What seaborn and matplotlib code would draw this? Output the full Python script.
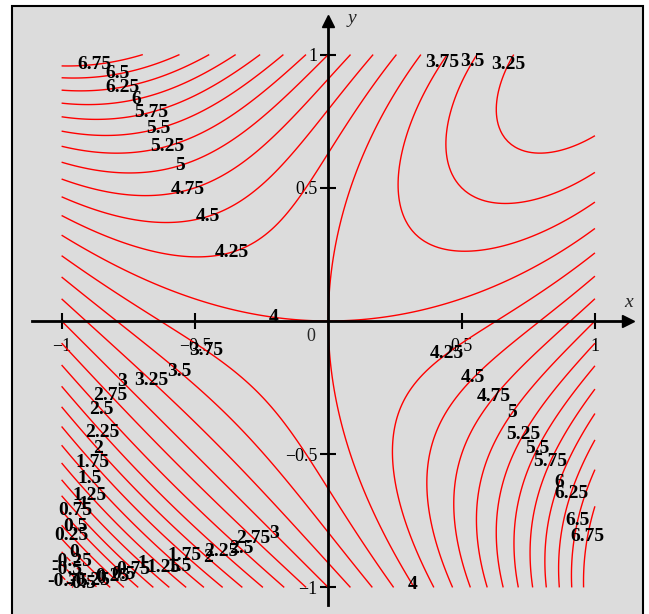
import numpy as np
import matplotlib
matplotlib.use("Agg")
import matplotlib.pyplot as plt
import seaborn as sns
from matplotlib.patches import Rectangle

sns.set_theme(style="white")
plt.rcParams['font.family'] = ['Liberation Serif', 'DejaVu Serif']

# ── surface: z = x^3 + y^3 - 3xy + 4 on the square [-1, 1] x [-1, 1]
x_vals = np.linspace(-1, 1, 161)
y_vals = np.linspace(-1, 1, 161)
X, Y = np.meshgrid(x_vals, y_vals)
Z = X**3 + Y**3 - 3 * X * Y + 4

levels = [-0.75, -0.5, -0.25, 0, 0.25, 0.5, 0.75, 1, 1.25, 1.5, 1.75, 2,
          2.25, 2.5, 2.75, 3, 3.25, 3.5, 3.75, 4, 4.25, 4.5, 4.75, 5,
          5.25, 5.5, 5.75, 6, 6.25, 6.5, 6.75]

# where the contour labels sit
label_spots = {
    -0.75: [(-0.985, -0.985)],
    -0.5:  [(-0.998, -0.953), (-0.893, -0.946)],
    -0.25: [(-0.968, -0.908), (-0.863, -0.942)],
    0:     [(-0.949, -0.867), (-0.83, -0.942)],
    0.25:  [(-0.968, -0.81), (-0.788, -0.938)],
    0.5:   [(-0.942, -0.765), (-0.754, -0.934)],
    0.75:  [(-0.957, -0.72), (-0.73, -0.93)],
    1:     [(-0.912, -0.683), (-0.705, -0.919)],
    1.25:  [(-0.893, -0.653), (-0.62, -0.927)],
    1.5:   [(-0.893, -0.589), (-0.555, -0.916)],
    1.75:  [(-0.886, -0.533), (-0.537, -0.878)],
    2:     [(-0.863, -0.477), (-0.45, -0.886)],
    2.25:  [(-0.848, -0.417), (-0.398, -0.859)],
    2.5:   [(-0.856, -0.334), (-0.341, -0.87)],
    2.75:  [(-0.818, -0.278), (-0.285, -0.822)],
    3:     [(-0.769, -0.221), (-0.199, -0.795)],
    3.25:  [(-0.668, -0.229), (0.72, 0.94)],
    3.5:   [(-0.563, -0.195), (0.58, 0.95)],
    3.75:  [(-0.46, -0.116), (0.44, 0.96)],
    4:     [(-0.206, 0.015), (0.315, -0.99)],
    4.25:  [(-0.36, 0.255), (0.447, -0.128)],
    4.5:   [(-0.45, 0.386), (0.544, -0.214)],
    4.75:  [(-0.525, 0.484), (0.627, -0.289)],
    5:     [(-0.555, 0.585), (0.694, -0.345)],
    5.25:  [(-0.60, 0.649), (0.732, -0.428)],
    5.5:   [(-0.638, 0.724), (0.777, -0.477)],
    5.75:  [(-0.66, 0.773), (0.833, -0.529)],
    6:     [(-0.717, 0.822), (0.863, -0.604)],
    6.25:  [(-0.769, 0.870), (0.908, -0.645)],
    6.5:   [(-0.788, 0.923), (0.934, -0.747)],
    6.75:  [(-0.874, 0.953), (0.972, -0.81)],
}

x_ticks = [-1, -0.5, 0.5, 1]
x_tick_labels = ['\u22121', '\u22120.5', '0.5', '1']
y_ticks = [-1, -0.5, 0.5, 1]
y_tick_labels = ['\u22121', '\u22120.5', '0.5', '1']

# ── figure ───────────────────────────────────────────────────
fig = plt.figure(figsize=(6.49, 6.14), dpi=100, facecolor='white')
fig.patches.append(Rectangle((12 / 649, -0.01), 631 / 649, 1.01 - 6 / 614,
                             transform=fig.transFigure, facecolor='#dcdcdc',
                             edgecolor='black', linewidth=1.5, zorder=-5))

ax = fig.add_axes([32 / 649, 9 / 614, 596 / 649, 584 / 614])
ax.set_facecolor('none')
ax.set_xlim(-1.111, 1.124)
ax.set_ylim(-1.066, 1.126)

# one contour set per level so each label snaps to its own curve
for lv in levels:
    cs = ax.contour(X, Y, Z, levels=[lv], colors='red', linewidths=1.0)
    texts = cs.clabel(manual=label_spots[lv], inline=False,
                      fontsize=14, colors='black', fmt='%g')
    for t in texts:
        t.set_rotation(0)
        t.set_fontweight('bold')

# axes through the origin with arrow heads
for side in ['top', 'right']:
    ax.spines[side].set_visible(False)
for side in ['left', 'bottom']:
    ax.spines[side].set_position(('data', 0))
    ax.spines[side].set_color('black')
    ax.spines[side].set_linewidth(2)
ax.plot(1, 0, marker='>', ms=9, color='black',
        transform=ax.get_yaxis_transform(), clip_on=False)
ax.plot(0, 1, marker='^', ms=9, color='black',
        transform=ax.get_xaxis_transform(), clip_on=False)

ax.set_xticks(x_ticks)
ax.set_xticklabels(x_tick_labels, fontsize=13)
ax.set_yticks(y_ticks)
ax.set_yticklabels(y_tick_labels, fontsize=13)
ax.tick_params(axis='both', direction='inout', length=12, width=1.5,
               colors='black', bottom=True, left=True)
ax.tick_params(axis='x', pad=6)
ax.tick_params(axis='y', pad=2)

ax.text(-0.064, -0.06, '0', fontsize=13, ha='center', va='center')
ax.text(1.126, 0.068, 'x', fontsize=14, style='italic', ha='center',
        va='center', clip_on=False)
ax.text(0.09, 1.137, 'y', fontsize=14, style='italic', ha='center',
        va='center', clip_on=False)

fig.savefig('out.png', dpi=100)
